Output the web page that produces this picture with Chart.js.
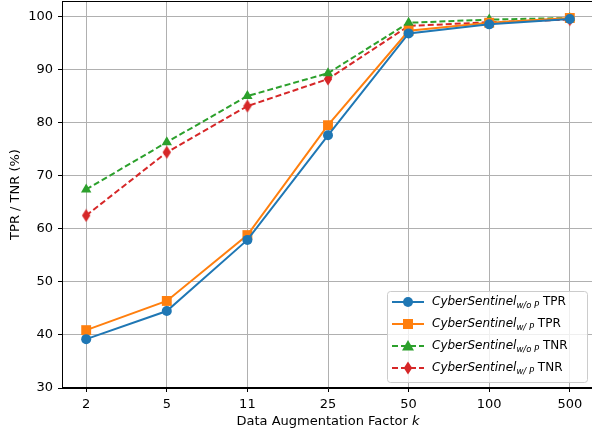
<!DOCTYPE html>
<html>
<head>
<meta charset="utf-8">
<script src="https://cdn.jsdelivr.net/npm/chart.js@4"></script>
<style>
  html, body { margin: 0; padding: 0; background: #fff; overflow: hidden; }
  #wrap { width: 592px; height: 431px; overflow: hidden; }
</style>
</head>
<body>
<div id="wrap"><canvas id="chart" width="594" height="431"></canvas></div>
<script>
// k values on the x axis (evenly spaced categories)
var kLabels = ["2", "5", "11", "25", "50", "100", "500"];

var tprWithoutP = [39.2, 44.5, 57.9, 77.6, 96.8, 98.5, 99.5];
var tprWithP    = [40.9, 46.4, 58.8, 79.5, 97.3, 98.8, 99.7];
var tnrWithoutP = [67.4, 76.3, 85.0, 89.3, 98.8, 99.4, 99.7];
var tnrWithP    = [62.5, 74.4, 83.1, 88.2, 98.2, 98.9, 99.4];

var yTicks = [30, 40, 50, 60, 70, 80, 90, 100];

var FONT = "'DejaVu Sans', sans-serif";

function pts(arr) {
  return arr.map(function(v, i) { return { x: i, y: v }; });
}

// thin diamond like matplotlib's 'd' marker
function thinDiamond(color) {
  var c = document.createElement("canvas");
  c.width = 10; c.height = 14;
  var g = c.getContext("2d");
  g.fillStyle = color;
  g.beginPath();
  g.moveTo(5, 0.5); g.lineTo(9.2, 7); g.lineTo(5, 13.5); g.lineTo(0.8, 7); g.closePath();
  g.fill();
  return c;
}
var diamondImg = thinDiamond("#d62728");

var legendItems = [
  { sub: "w/o P", tail: " TPR", color: "#1f77b4", dash: [], marker: "circle" },
  { sub: "w/ P",  tail: " TPR", color: "#ff7f0e", dash: [], marker: "rect" },
  { sub: "w/o P", tail: " TNR", color: "#2ca02c", dash: [6, 3], marker: "triangle" },
  { sub: "w/ P",  tail: " TNR", color: "#d62728", dash: [6, 3], marker: "diamond" }
];

function drawMarker(ctx, type, x, y, color) {
  ctx.save();
  ctx.fillStyle = color;
  ctx.beginPath();
  if (type === "circle") {
    ctx.arc(x, y, 5, 0, Math.PI * 2);
  } else if (type === "rect") {
    ctx.rect(x - 5, y - 5, 10, 10);
  } else if (type === "triangle") {
    ctx.moveTo(x, y - 6); ctx.lineTo(x + 6, y + 4.5); ctx.lineTo(x - 6, y + 4.5); ctx.closePath();
  } else {
    ctx.moveTo(x, y - 6.5); ctx.lineTo(x + 4.2, y); ctx.lineTo(x, y + 6.5); ctx.lineTo(x - 4.2, y); ctx.closePath();
  }
  ctx.fill();
  ctx.restore();
}

// frame on all four sides, x title with italic k, legend inside the plot area
var framePlugin = {
  id: "frame",
  afterDraw: function(chart) {
    var ctx = chart.ctx, a = chart.chartArea;
    ctx.save();
    ctx.strokeStyle = "#000";
    ctx.lineWidth = 1;
    ctx.strokeRect(a.left + 0.5, a.top + 0.5, a.right - a.left - 1, a.bottom - a.top - 1);

    // x axis title
    ctx.fillStyle = "#000";
    ctx.textBaseline = "alphabetic";
    ctx.textAlign = "left";
    ctx.font = "13px " + FONT;
    var t1 = "Data Augmentation Factor ";
    var w1 = ctx.measureText(t1).width;
    ctx.font = "italic 13px " + FONT;
    var w2 = ctx.measureText("k").width;
    var cx = (a.left + a.right) / 2;
    var sx = cx - (w1 + w2) / 2;
    ctx.font = "13px " + FONT;
    ctx.fillText(t1, sx, 425);
    ctx.font = "italic 13px " + FONT;
    ctx.fillText("k", sx + w1, 425);

    // legend box
    var bw = 200, bh = 91;
    var bx = 387, by = a.bottom - bh - 6;
    ctx.fillStyle = "rgba(255,255,255,0.8)";
    ctx.strokeStyle = "#cccccc";
    ctx.lineWidth = 1;
    ctx.beginPath();
    if (ctx.roundRect) ctx.roundRect(bx + 0.5, by + 0.5, bw, bh, 3); else ctx.rect(bx + 0.5, by + 0.5, bw, bh);
    ctx.fill();
    ctx.stroke();

    legendItems.forEach(function(it, i) {
      var cy = by + 11 + i * 22;
      ctx.save();
      ctx.strokeStyle = it.color;
      ctx.lineWidth = 2;
      ctx.setLineDash(it.dash);
      ctx.beginPath();
      ctx.moveTo(bx + 5, cy); ctx.lineTo(bx + 37, cy);
      ctx.stroke();
      ctx.restore();
      drawMarker(ctx, it.marker, bx + 21, cy, it.color);

      ctx.fillStyle = "#000";
      ctx.textBaseline = "middle";
      ctx.textAlign = "left";
      var tx = bx + 45;
      ctx.font = "italic 12px " + FONT;
      ctx.fillText("CyberSentinel", tx, cy);
      tx += ctx.measureText("CyberSentinel").width;
      ctx.font = "italic 8.5px " + FONT;
      ctx.fillText(it.sub, tx, cy + 4);
      tx += ctx.measureText(it.sub).width;
      ctx.font = "12px " + FONT;
      ctx.fillText(it.tail, tx, cy);
    });
    ctx.restore();
  }
};

function ds(label, data, color, style, dash, radius) {
  return {
    label: label,
    data: pts(data),
    borderColor: color,
    backgroundColor: color,
    borderWidth: 2,
    borderDash: dash,
    pointStyle: style,
    pointRadius: radius,
    pointHoverRadius: radius,
    pointBorderWidth: 0,
    tension: 0
  };
}

new Chart(document.getElementById("chart"), {
  type: "line",
  data: {
    datasets: [
      ds("CyberSentinel w/o P TPR", tprWithoutP, "#1f77b4", "circle", [], 5),
      ds("CyberSentinel w/ P TPR", tprWithP, "#ff7f0e", "rect", [], 7),
      ds("CyberSentinel w/o P TNR", tnrWithoutP, "#2ca02c", "triangle", [6, 3], 6),
      ds("CyberSentinel w/ P TNR", tnrWithP, "#d62728", diamondImg, [6, 3], 6)
    ]
  },
  options: {
    responsive: false,
    animation: false,
    layout: { autoPadding: false, padding: { left: 0, right: 0, top: 1, bottom: 0 } },
    plugins: {
      legend: { display: false },
      tooltip: { enabled: false }
    },
    scales: {
      x: {
        type: "linear",
        min: -0.3,
        max: 6.3,
        afterBuildTicks: function(axis) {
          axis.ticks = kLabels.map(function(_, i) { return { value: i }; });
        },
        afterFit: function(s) { s.height = 43; s.paddingLeft = 0; s.paddingRight = 0; },
        ticks: {
          callback: function(v) { return kLabels[v]; },
          color: "#000",
          font: { family: FONT, size: 13 },
          padding: 5,
          maxRotation: 0
        },
        grid: { color: "#b0b0b0", lineWidth: 1, tickLength: 4, tickColor: "#000" },
        border: { color: "#000", width: 1 },
        title: { display: false }
      },
      y: {
        min: 30,
        max: 102.9,
        afterBuildTicks: function(axis) {
          axis.ticks = yTicks.map(function(v) { return { value: v }; });
        },
        afterFit: function(s) { s.width = 62; s.paddingTop = 0; s.paddingBottom = 0; },
        ticks: {
          color: "#000",
          font: { family: FONT, size: 13 },
          padding: 5
        },
        grid: { color: "#b0b0b0", lineWidth: 1, tickLength: 4, tickColor: "#000" },
        border: { color: "#000", width: 1 },
        title: {
          display: true,
          text: "TPR / TNR (%)",
          color: "#000",
          font: { family: FONT, size: 13 },
          padding: { top: 8, bottom: 0 }
        }
      }
    }
  },
  plugins: [framePlugin]
});
</script>
</body>
</html>
